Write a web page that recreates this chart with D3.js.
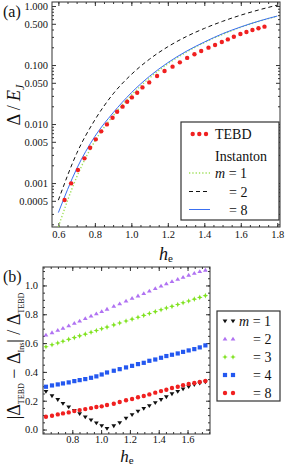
<!DOCTYPE html>
<html>
<head>
<meta charset="utf-8">
<script src="https://cdn.jsdelivr.net/npm/d3@7"></script>
<style>
    body { margin: 0; background: #fff; }
    svg text { font-family: "Liberation Serif", "Times New Roman", serif; fill: #111; }
</style>
</head>
<body>
<div id="chart"></div>
<script>

// panel (a): instanton curves, sampled in h_e
const hCurve = [0.6, 0.7, 0.8, 0.9, 1.0, 1.1, 1.2, 1.3, 1.4, 1.5, 1.6, 1.7, 1.8];
const instM1 = [0.000182, 0.00126, 0.00513, 0.0138, 0.0309, 0.0603, 0.1047, 0.164, 0.240, 0.331, 0.437, 0.550, 0.676];
const instM2 = [0.000513, 0.00316, 0.01175, 0.0324, 0.0692, 0.126, 0.204, 0.302, 0.417, 0.550, 0.700, 0.861, 1.035];
const instM8 = [0.000316, 0.00174, 0.00617, 0.0155, 0.0339, 0.0646, 0.1096, 0.170, 0.245, 0.339, 0.442, 0.556, 0.676];

// panel (a): TEBD gap
const hTebd = [0.634, 0.670, 0.707, 0.743, 0.774, 0.805, 0.835, 0.866, 0.897, 0.922, 0.952, 0.977, 1.003,
    1.032, 1.061, 1.098, 1.141, 1.182, 1.226, 1.266, 1.306, 1.346, 1.383, 1.423, 1.459, 1.496, 1.529,
    1.562, 1.598, 1.631, 1.664, 1.697, 1.730];
const gapTebd = [0.000515, 0.000989, 0.00166, 0.00262, 0.00397, 0.00550, 0.00752, 0.00986, 0.0128, 0.0162,
    0.0197, 0.0239, 0.0283, 0.0340, 0.0418, 0.0508, 0.0652, 0.0791, 0.0938, 0.111, 0.132, 0.152, 0.173,
    0.197, 0.218, 0.245, 0.272, 0.302, 0.335, 0.362, 0.392, 0.419, 0.447];

// panel (b): relative deviation |D_TEBD - D_Ins| / D_TEBD
const hRel = [0.617, 0.659, 0.699, 0.735, 0.775, 0.814, 0.851, 0.890, 0.930, 0.967, 1.004, 1.041, 1.088,
    1.129, 1.173, 1.215, 1.256, 1.296, 1.335, 1.376, 1.416, 1.453, 1.492, 1.532, 1.569, 1.608, 1.647,
    1.685, 1.724];
const relM1 = [0.263, 0.233, 0.207, 0.180, 0.156, 0.132, 0.109, 0.087, 0.066, 0.045, 0.026, 0.006, 0.025,
    0.047, 0.078, 0.102, 0.126, 0.146, 0.165, 0.186, 0.207, 0.226, 0.247, 0.264, 0.281, 0.297, 0.311,
    0.321, 0.330];
const relM2 = [0.656, 0.673, 0.689, 0.704, 0.721, 0.738, 0.754, 0.771, 0.788, 0.804, 0.820, 0.836, 0.856,
    0.874, 0.893, 0.911, 0.928, 0.945, 0.962, 0.979, 0.996, 1.012, 1.028, 1.044, 1.058, 1.072, 1.085,
    1.097, 1.107];
const relM3 = [0.575, 0.588, 0.601, 0.613, 0.626, 0.638, 0.650, 0.662, 0.675, 0.687, 0.699, 0.711, 0.726,
    0.739, 0.753, 0.766, 0.779, 0.792, 0.805, 0.818, 0.831, 0.843, 0.855, 0.868, 0.880, 0.892, 0.905,
    0.917, 0.929];
const relM4 = [0.297, 0.306, 0.313, 0.320, 0.327, 0.336, 0.343, 0.350, 0.359, 0.369, 0.382, 0.396, 0.408,
    0.419, 0.431, 0.442, 0.454, 0.463, 0.477, 0.486, 0.498, 0.510, 0.519, 0.528, 0.539, 0.549, 0.558,
    0.570, 0.584];
const relM8 = [0.089, 0.096, 0.105, 0.112, 0.119, 0.128, 0.135, 0.142, 0.149, 0.156, 0.161, 0.170, 0.179,
    0.191, 0.203, 0.212, 0.224, 0.233, 0.244, 0.256, 0.267, 0.276, 0.288, 0.297, 0.307, 0.316, 0.323,
    0.330, 0.337];

// ticks
const xTicksA = [0.6, 0.8, 1.0, 1.2, 1.4, 1.6, 1.8];
const yTicksA = [1, 0.5, 0.1, 0.05, 0.01, 0.005, 0.001, 0.0005];
const yLabelsA = ["1.000", "0.500", "0.100", "0.050", "0.010", "0.005", "0.001", "0.0005"];
const xTicksB = [0.8, 1.0, 1.2, 1.4, 1.6];
const yTicksB = [0.0, 0.2, 0.4, 0.6, 0.8, 1.0];

const serif = "'Liberation Serif', 'Times New Roman', serif";


let svg = d3.select("#chart").append("svg")
    .attr("width", 285)
    .attr("height", 464)
    .attr("font-family", serif);

let xA = d3.scaleLinear().domain([0.565, 1.815]).range([52, 280]);
let yA = d3.scaleLog().domain([0.00018, 1.17]).range([227, 2]);
let xB = d3.scaleLinear().domain([0.5965, 1.756]).range([43, 210]);
let yB = d3.scaleLinear().domain([-0.031, 1.128]).range([434, 267]);


function frame(x, y, o) {
    let g = svg.append("g").style("color", "#333");
    let [x0, x1] = x.range();
    let [y0, y1] = y.range();

    function put(axis, tx, ty) {
        let a = g.append("g").attr("transform", "translate(" + tx + "," + ty + ")").call(axis);
        a.attr("font-family", serif).attr("font-size", 10.5);
        a.select(".domain").remove();
        a.selectAll("text").attr("fill", "#111");
        return a;
    }

    // major + minor ticks on all four sides, drawn inward
    put(d3.axisBottom(x).tickValues(o.xMajor).tickSizeInner(-4).tickSizeOuter(0).tickPadding(o.xPad).tickFormat(o.xFmt), 0, y0);
    put(d3.axisBottom(x).tickValues(o.xMinor).tickSizeInner(-2).tickSizeOuter(0).tickFormat(""), 0, y0);
    put(d3.axisTop(x).tickValues(o.xMajor).tickSizeInner(-4).tickSizeOuter(0).tickFormat(""), 0, y1);
    put(d3.axisTop(x).tickValues(o.xMinor).tickSizeInner(-2).tickSizeOuter(0).tickFormat(""), 0, y1);
    put(d3.axisLeft(y).tickValues(o.yMajor).tickSizeInner(-4).tickSizeOuter(0).tickPadding(o.yPad).tickFormat(o.yFmt), x0, 0);
    put(d3.axisLeft(y).tickValues(o.yMinor).tickSizeInner(-2).tickSizeOuter(0).tickFormat(""), x0, 0);
    put(d3.axisRight(y).tickValues(o.yMajor).tickSizeInner(-4).tickSizeOuter(0).tickFormat(""), x1, 0);
    put(d3.axisRight(y).tickValues(o.yMinor).tickSizeInner(-2).tickSizeOuter(0).tickFormat(""), x1, 0);

    g.append("rect")
        .attr("x", x0).attr("y", y1)
        .attr("width", x1 - x0).attr("height", y0 - y1)
        .attr("fill", "none").attr("stroke", "#333").attr("stroke-width", 1);
}

// ---- panel (a)

let logMinor = [];
for (let k = -4; k <= 0; k++) {
    for (let m = 2; m <= 9; m++) {
        let v = m * Math.pow(10, k);
        if (v > 0.00018 && v < 1.17 && m !== 5) logMinor.push(v);
    }
}

frame(xA, yA, {
    xMajor: xTicksA, xMinor: d3.range(0.6, 1.81, 0.05), xPad: 4,
    xFmt: d3.format(".1f"),
    yMajor: yTicksA, yMinor: logMinor, yPad: 4,
    yFmt: function (d, i) { return yLabelsA[i]; }
});

svg.append("clipPath").attr("id", "clipA").append("rect")
    .attr("x", 52).attr("y", 2).attr("width", 228).attr("height", 225);

let lineA = function (vals) {
    return d3.line()
        .x(function (d, i) { return xA(hCurve[i]); })
        .y(function (d) { return yA(d); })
        .curve(d3.curveMonotoneX)(vals);
};

let curvesA = svg.append("g").attr("clip-path", "url(#clipA)");

curvesA.append("path").attr("d", lineA(instM2))
    .attr("fill", "none").attr("stroke", "#111").attr("stroke-width", 1)
    .attr("stroke-dasharray", "4,3");
curvesA.append("path").attr("d", lineA(instM1))
    .attr("fill", "none").attr("stroke", "#9fe05a").attr("stroke-width", 1.4)
    .attr("stroke-dasharray", "1.3,2");
curvesA.append("path").attr("d", lineA(instM8))
    .attr("fill", "none").attr("stroke", "#3a6ff0").attr("stroke-width", 1);

curvesA.selectAll(".tebd")
    .data(gapTebd)
    .enter().append("circle")
    .attr("class", "tebd")
    .attr("cx", function (d, i) { return xA(hTebd[i]); })
    .attr("cy", function (d) { return yA(d); })
    .attr("r", 2.2)
    .attr("fill", "#f02020");

// legend (a)
let legA = svg.append("g");
legA.append("rect").attr("x", 181).attr("y", 122).attr("width", 98).attr("height", 98)
    .attr("fill", "#fff").attr("stroke", "#333").attr("stroke-width", 1.2);
[192.7, 199.3, 206].forEach(function (cx) {
    legA.append("circle").attr("cx", cx).attr("cy", 134).attr("r", 2.2).attr("fill", "#f02020");
});
legA.append("line").attr("x1", 189).attr("x2", 210).attr("y1", 173).attr("y2", 173)
    .attr("stroke", "#9fe05a").attr("stroke-width", 1.4).attr("stroke-dasharray", "1.3,2");
legA.append("line").attr("x1", 189).attr("x2", 210).attr("y1", 191.5).attr("y2", 191.5)
    .attr("stroke", "#111").attr("stroke-width", 1).attr("stroke-dasharray", "4,3");
legA.append("line").attr("x1", 189).attr("x2", 210).attr("y1", 209.5).attr("y2", 209.5)
    .attr("stroke", "#3a6ff0").attr("stroke-width", 1);

legA.append("text").attr("x", 215).attr("y", 139).style("font-size", "14px").text("TEBD");
legA.append("text").attr("x", 215).attr("y", 161).style("font-size", "14px").text("Instanton");
let m1a = legA.append("text").attr("x", 215).attr("y", 178).style("font-size", "14px");
m1a.append("tspan").style("font-style", "italic").text("m");
m1a.append("tspan").text(" = 1");
legA.append("text").attr("x", 229).attr("y", 196.5).style("font-size", "14px").text("= 2");
legA.append("text").attr("x", 229).attr("y", 214.5).style("font-size", "14px").text("= 8");

// ---- panel (b)

frame(xB, yB, {
    xMajor: xTicksB, xMinor: d3.range(0.6, 1.76, 0.05), xPad: 2,
    xFmt: d3.format(".1f"),
    yMajor: yTicksB, yMinor: d3.range(0, 1.13, 0.05), yPad: 5,
    yFmt: d3.format(".1f")
});

function marker(kind) {
    if (kind === "down") return "M-2.4,-1.6L2.4,-1.6L0,2.2Z";
    if (kind === "up") return "M-2.4,1.6L2.4,1.6L0,-2.2Z";
    if (kind === "star") return "M0,-2.8L0.8,-0.8L2.8,0L0.8,0.8L0,2.8L-0.8,0.8L-2.8,0L-0.8,-0.8Z";
    if (kind === "square") return "M-2.1,-2.1L2.1,-2.1L2.1,2.1L-2.1,2.1Z";
    return d3.symbol(d3.symbolCircle, 15)();
}

let seriesB = [
    { vals: relM1, color: "#111111", kind: "down", label: "= 1" },
    { vals: relM2, color: "#b072f2", kind: "up", label: "= 2" },
    { vals: relM3, color: "#7fe21e", kind: "star", label: "= 3" },
    { vals: relM4, color: "#2458f0", kind: "square", label: "= 4" },
    { vals: relM8, color: "#f02020", kind: "circle", label: "= 8" }
];

seriesB.forEach(function (s) {
    svg.append("g").selectAll("path")
        .data(s.vals)
        .enter().append("path")
        .attr("d", marker(s.kind))
        .attr("transform", function (d, i) { return "translate(" + xB(hRel[i]) + "," + yB(d) + ")"; })
        .attr("fill", s.color);
});

// legend (b)
let legB = svg.append("g");
legB.append("rect").attr("x", 217).attr("y", 311).attr("width", 63).attr("height", 90)
    .attr("fill", "#fff").attr("stroke", "#333").attr("stroke-width", 1.2);
seriesB.forEach(function (s, i) {
    let cy = 321 + i * 18;
    [225, 233].forEach(function (cx) {
        legB.append("path").attr("d", marker(s.kind))
            .attr("transform", "translate(" + cx + "," + cy + ")")
            .attr("fill", s.color);
    });
    if (i === 0) {
        let t = legB.append("text").attr("x", 239).attr("y", cy + 5).style("font-size", "14px");
        t.append("tspan").style("font-style", "italic").text("m");
        t.append("tspan").text(" = 1");
    } else {
        legB.append("text").attr("x", 253).attr("y", cy + 5).style("font-size", "14px").text(s.label);
    }
});

// ---- titles

svg.append("text").attr("x", 3).attr("y", 17).style("font-size", "16px").text("(a)");
svg.append("text").attr("x", 3).attr("y", 282).style("font-size", "16px").text("(b)");

function xTitle(cx, by, fs) {
    let t = svg.append("text").attr("x", cx).attr("y", by)
        .attr("text-anchor", "middle").style("font-size", fs + "px");
    t.append("tspan").style("font-style", "italic").text("h");
    t.append("tspan").attr("dy", 2).style("font-size", "11px").text("e");
}
xTitle(166, 260, 18);
xTitle(127, 461.5, 17);

let tA = svg.append("text")
    .attr("transform", "translate(20,105) rotate(-90)")
    .attr("text-anchor", "middle").style("font-size", "18px");
tA.append("tspan").text("Δ / ");
tA.append("tspan").style("font-style", "italic").text("E");
tA.append("tspan").attr("dy", 4).style("font-size", "12px").style("font-style", "italic").text("J");

let tB = svg.append("text")
    .attr("transform", "translate(20,356) rotate(-90)")
    .attr("text-anchor", "middle").style("font-size", "18px");
tB.append("tspan").text("|Δ");
tB.append("tspan").attr("dy", 4).style("font-size", "8px").text("TEBD");
tB.append("tspan").attr("dy", -4).text(" − Δ");
tB.append("tspan").attr("dy", 4).style("font-size", "8px").text("Ins");
tB.append("tspan").attr("dy", -4).text("| / Δ");
tB.append("tspan").attr("dy", 4).style("font-size", "8px").text("TEBD");

</script>
</body>
</html>
